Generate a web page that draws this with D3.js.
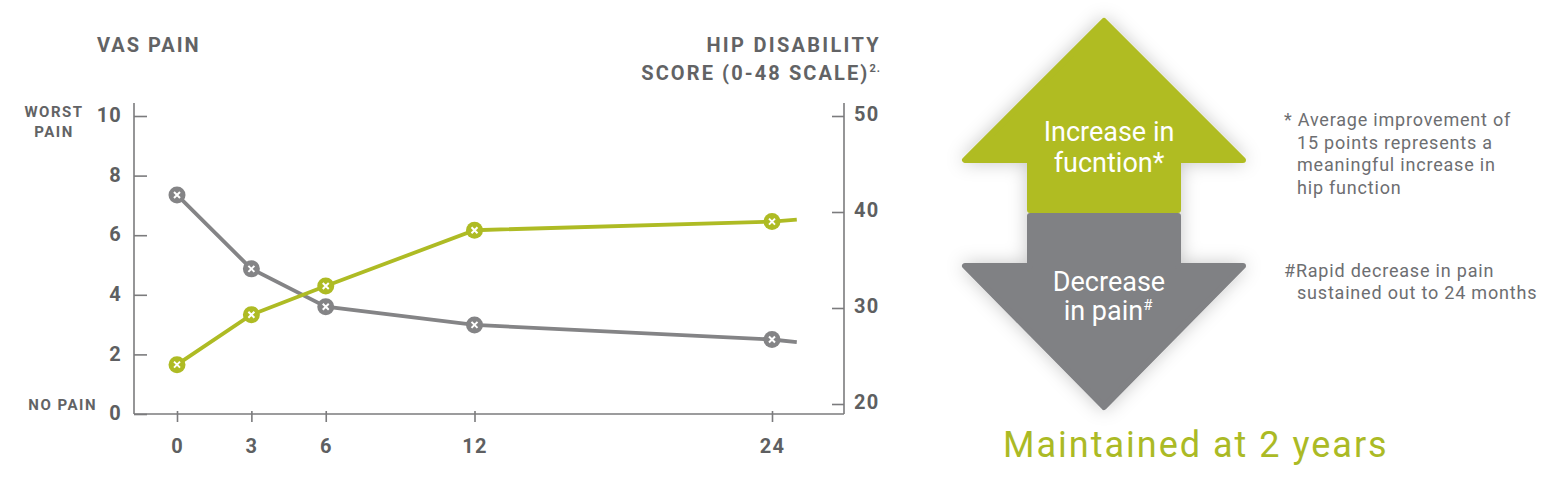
<!DOCTYPE html>
<html><head><meta charset="utf-8">
<script src="https://cdn.jsdelivr.net/npm/d3@7/dist/d3.min.js"></script>
<style>
html,body{margin:0;padding:0;background:#fff;}
svg{display:block;font-family:Roboto,"Liberation Sans",sans-serif;}
</style></head>
<body>
<svg id="chart" width="1554" height="486"></svg>
<script>
// ---- data ----
const months = [0, 3, 6, 12, 24];
const vasPain = [7.35, 4.87, 3.6, 2.99, 2.5];
const hipScore = [24.1, 29.3, 32.3, 38.1, 39.0];
const tailMonth = 25;
const vasTail = 2.41;
const hipTail = 39.2;
const leftTicks = [0, 2, 4, 6, 8, 10];
const rightTicks = [20, 30, 40, 50];
const xTicks = [0, 3, 6, 12, 24];
const noteFunction = ["* Average improvement of", "15 points represents a", "meaningful increase in", "hip function"];
const notePain = ["#Rapid decrease in pain", "sustained out to 24 months"];

const GREEN = "#aebb24", GRAY = "#848486", AXIS = "#7b7b7d", TXT = "#626365";

const svg = d3.select("#chart");
const x = d3.scaleLinear().domain([0, 24]).range([177, 772]);
const yL = d3.scaleLinear().domain([0, 10]).range([414, 116]);
const yR = d3.scaleLinear().domain([20, 50]).range([404, 116]);

// axis lines
const axG = svg.append("g").attr("stroke", AXIS).attr("stroke-width", 1.6);
axG.append("line").attr("x1", 134).attr("x2", 134).attr("y1", 103).attr("y2", 414);
axG.append("line").attr("x1", 844).attr("x2", 844).attr("y1", 103).attr("y2", 414);
axG.append("line").attr("x1", 134).attr("x2", 844).attr("y1", 414).attr("y2", 414);

function styleAxis(g) {
  g.select(".domain").remove();
  g.selectAll(".tick line").attr("stroke", AXIS).attr("stroke-width", 1.6);
  g.selectAll(".tick text").attr("fill", "#5e5f61").attr("font-size", 20)
    .attr("font-weight", 700).attr("letter-spacing", 1.2).attr("font-family", "Roboto, sans-serif");
}

svg.append("g").attr("transform", "translate(134,0)")
  .call(d3.axisLeft(yL).tickValues(leftTicks).tickSizeInner(-13).tickSizeOuter(0).tickPadding(12))
  .call(styleAxis)
  .call(g => g.selectAll(".tick text").attr("dy", "0.28em"));

svg.append("g").attr("transform", "translate(844,0)")
  .call(d3.axisRight(yR).tickValues(rightTicks).tickSizeInner(-12).tickSizeOuter(0).tickPadding(10))
  .call(styleAxis)
  .call(g => g.selectAll(".tick text").attr("dy", "0.22em"));

svg.append("g").attr("transform", "translate(0,414)")
  .call(d3.axisBottom(x).tickValues(xTicks).tickSizeInner(8).tickSizeOuter(0).tickPadding(31))
  .call(styleAxis)
  .call(g => g.selectAll(".tick line").attr("y1", -3))
  .call(g => g.selectAll(".tick text").attr("dy", "0em"));

// axis titles
const title = (t, xx, yy, anchor, size, ls) => svg.append("text").text(t)
  .attr("x", xx).attr("y", yy).attr("text-anchor", anchor).attr("fill", TXT)
  .attr("font-size", size).attr("font-weight", 700).attr("letter-spacing", ls);
title("VAS PAIN", 97, 52, "start", 20, 2);
title("HIP DISABILITY", 881, 52, "end", 20, 2.3);
const t2 = svg.append("text").attr("x", 881).attr("y", 80).attr("text-anchor", "end")
  .attr("fill", TXT).attr("font-size", 20).attr("font-weight", 700).attr("letter-spacing", 2.1);
t2.append("tspan").text("SCORE (0-48 SCALE)");
t2.append("tspan").text("2.").attr("font-size", 11).attr("dy", -8).attr("letter-spacing", 1);
title("WORST", 54, 117, "middle", 15, 1.5);
title("PAIN", 54, 137, "middle", 15, 1.5);
title("NO PAIN", 97, 410, "end", 15, 1.5);

// lines
const ptsV = months.map((m, i) => [m, vasPain[i]]).concat([[tailMonth, vasTail]]);
const ptsH = months.map((m, i) => [m, hipScore[i]]).concat([[tailMonth, hipTail]]);
svg.append("path").datum(ptsV).attr("fill", "none").attr("stroke", GRAY).attr("stroke-width", 3.8)
  .attr("d", d3.line().x(d => x(d[0])).y(d => yL(d[1])));
svg.append("path").datum(ptsH).attr("fill", "none").attr("stroke", GREEN).attr("stroke-width", 3.8)
  .attr("d", d3.line().x(d => x(d[0])).y(d => yR(d[1])));

function markers(vals, scale, color) {
  const g = svg.append("g").selectAll("g").data(months.map((m, i) => [m, vals[i]])).join("g")
    .attr("transform", d => `translate(${x(d[0])},${scale(d[1])})`);
  g.append("circle").attr("r", 8.5).attr("fill", color);
  g.append("path").attr("d", "M-3,-3L3,3M-3,3L3,-3").attr("stroke", "#fff").attr("stroke-width", 2);
}
markers(vasPain, yL, GRAY);
markers(hipScore, yR, GREEN);

// arrows
const defs = svg.append("defs");
const f = defs.append("filter").attr("id", "shadow").attr("x", "-20%").attr("y", "-20%").attr("width", "140%").attr("height", "140%");
f.append("feDropShadow").attr("dx", 0).attr("dy", 0).attr("stdDeviation", 9).attr("flood-color", "#000").attr("flood-opacity", 0.22);
const arr = svg.append("g").attr("filter", "url(#shadow)");
arr.append("path").attr("fill", "#b0bc22").attr("stroke", "#b0bc22").attr("stroke-width", 6).attr("stroke-linejoin", "round")
  .attr("d", "M1104,21L965,160L1030,160L1030,210L1178,210L1178,160L1243,160Z");
arr.append("path").attr("fill", "#808184").attr("stroke", "#808184").attr("stroke-width", 6).attr("stroke-linejoin", "round")
  .attr("d", "M1030,216L1178,216L1178,266L1243,266L1104,407L965,266L1030,266Z");

const at = (t, yy) => svg.append("text").attr("x", 1109).attr("y", yy).attr("text-anchor", "middle")
  .attr("fill", "#fff").attr("font-size", 27).text(t);
at("Increase in", 141);
at("fucntion*", 172);
at("Decrease", 291);
const ip = svg.append("text").attr("x", 1108).attr("y", 320).attr("text-anchor", "middle")
  .attr("fill", "#fff").attr("font-size", 27);
ip.append("tspan").text("in pain");
ip.append("tspan").text("#").attr("font-size", 15).attr("dy", -10);

// notes
noteFunction.forEach((t, i) => svg.append("text").attr("x", i === 0 ? 1284 : 1297).attr("y", 126 + i * 22.5)
  .attr("fill", "#6d6e71").attr("font-size", 18).attr("letter-spacing", 0.8).text(t));
notePain.forEach((t, i) => svg.append("text").attr("x", i === 0 ? 1284 : 1297).attr("y", 277 + i * 21.7)
  .attr("fill", "#6d6e71").attr("font-size", 18).attr("letter-spacing", 0.8).text(t));

svg.append("text").attr("x", 1003).attr("y", 457).attr("fill", "#abba25").attr("font-size", 36)
  .attr("letter-spacing", 2).text("Maintained at 2 years");
</script>
</body></html>
